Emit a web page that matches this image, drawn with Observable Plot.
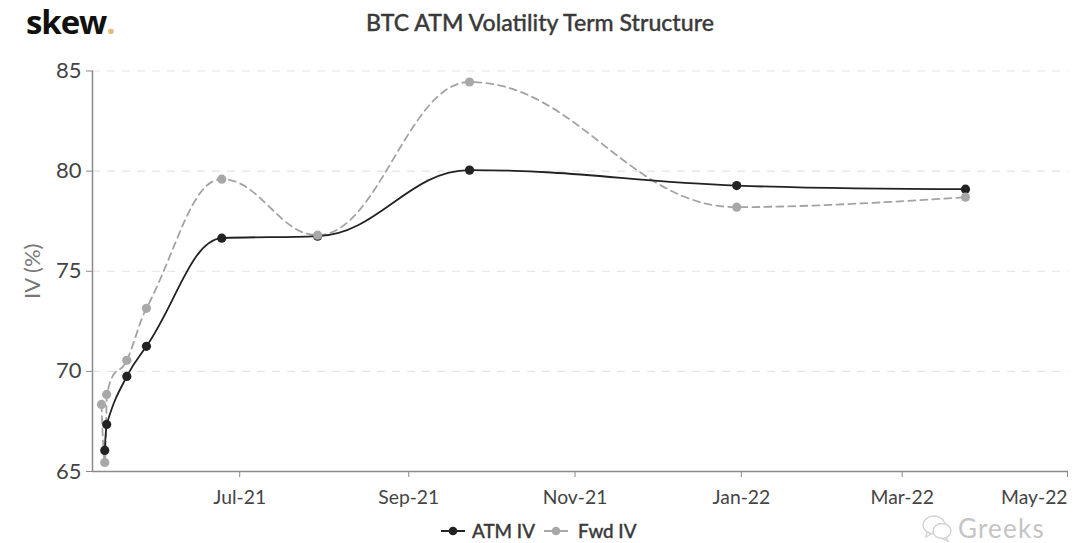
<!DOCTYPE html>
<html>
<head>
<meta charset="utf-8">
<script src="https://cdn.jsdelivr.net/npm/d3@7"></script>
<script src="https://cdn.jsdelivr.net/npm/@observablehq/plot@0.6"></script>
<style>
html,body{margin:0;padding:0;background:#fff;overflow:hidden}
#wrap{position:relative;width:1080px;height:543px;font-family:Lato,sans-serif}
#wrap svg.main{position:absolute;left:0;top:0}
.abs{position:absolute;white-space:nowrap}
#title{left:0;width:1080px;top:9px;text-align:center;font-size:23.1px;font-weight:500;color:#3a3a3a;line-height:26px;-webkit-text-stroke:.35px #3a3a3a}
#logo{left:26px;top:0;font-family:"Open Sans",sans-serif;font-size:33px;font-weight:700;color:#111;line-height:44px;letter-spacing:-1.1px}
#logo span{color:#e2bf78}
.leg{top:519px;font-size:18.8px;font-weight:500;color:#3a3a3a;line-height:24px;-webkit-text-stroke:.35px #3a3a3a}
.mark{top:524px;width:26px;height:14px}
#wm{left:958px;top:513px;font-size:26px;color:#c4c4c4;line-height:30px;letter-spacing:1.2px}
</style>
</head>
<body>
<div id="wrap"></div>
<script>
const atmDates = ["2021-05-12T12:00Z","2021-05-13T05:00Z","2021-05-20T14:00Z","2021-05-27T19:00Z","2021-06-24T10:00Z","2021-07-29T14:00Z","2021-09-23T07:00Z","2021-12-30T07:00Z","2022-03-24T05:00Z"];
const atmValues = [66.05,67.35,69.75,71.25,76.65,76.75,80.05,79.28,79.1];
const fwdDates = ["2021-05-11T07:00Z","2021-05-12T12:00Z","2021-05-13T05:00Z","2021-05-20T14:00Z","2021-05-27T19:00Z","2021-06-24T10:00Z","2021-07-29T14:00Z","2021-09-23T07:00Z","2021-12-30T07:00Z","2022-03-24T05:00Z"];
const fwdValues = [68.35,65.45,68.85,70.55,73.15,79.6,76.8,84.45,78.2,78.7];
const xTicks = ["2021-07-01","2021-09-01","2021-11-01","2022-01-01","2022-03-01"];
const xLastTick = "2022-05-01";
const yTicks = [65,70,75,80,85];
const xDomain = ["2021-05-08","2022-05-01"];

const toRows = (ds, vs) => ds.map((d, i) => ({date: new Date(d), iv: vs[i]}));
const atm = toRows(atmDates, atmValues);
const fwd = toRows(fwdDates, fwdValues);

// Spline with the same control-point rule as the source chart's smoothed line
function splineCurve(context) {
  const pts = [];
  return {
    areaStart() {}, areaEnd() {},
    lineStart() { pts.length = 0; },
    point(x, y) { pts.push([+x, +y]); },
    lineEnd() {
      const s = 1.5, den = s + 1;
      let prevRX = null, prevRY = null;
      pts.forEach((p, i) => {
        const [x, y] = p;
        let lx = x, ly = y, rx = x, ry = y;
        const last = pts[i - 1], next = pts[i + 1];
        if (last && next) {
          lx = (s * x + last[0]) / den; ly = (s * y + last[1]) / den;
          rx = (s * x + next[0]) / den; ry = (s * y + next[1]) / den;
          const c = ((ry - ly) * (rx - x)) / (rx - lx) + y - ry;
          ly += c; ry += c;
          if (ly > last[1] && ly > y) { ly = Math.max(last[1], y); ry = 2 * y - ly; }
          else if (ly < last[1] && ly < y) { ly = Math.min(last[1], y); ry = 2 * y - ly; }
          if (ry > next[1] && ry > y) { ry = Math.max(next[1], y); ly = 2 * y - ry; }
          else if (ry < next[1] && ry < y) { ry = Math.min(next[1], y); ly = 2 * y - ry; }
        }
        if (i === 0) context.moveTo(x, y);
        else context.bezierCurveTo(prevRX, prevRY, lx, ly, x, y);
        prevRX = rx; prevRY = ry;
      });
    }
  };
}

const axisColor = "#8a8a8a";
const fmt = d3.utcFormat("%b-%y");
const xAxisOpts = {tickFormat: fmt, tickSize: 6, tickPadding: 12.5, fontSize: 19.3, color: "#444", stroke: axisColor, label: null};
const chart = Plot.plot({
  width: 1080, height: 543,
  marginLeft: 92, marginRight: 12, marginTop: 70.5, marginBottom: 72,
  style: {fontFamily: "Lato, sans-serif", background: "transparent", overflow: "visible"},
  x: {type: "utc", domain: xDomain.map(d => new Date(d))},
  y: {domain: [65, 85]},
  marks: [
    Plot.gridY(yTicks.slice(1), {stroke: "#e4e4e4", strokeOpacity: 1, strokeDasharray: "8 7", strokeWidth: 1.2}),
    Plot.ruleY([65], {stroke: axisColor, strokeWidth: 1.5}),
    Plot.ruleX([new Date(xDomain[0])], {stroke: axisColor, strokeWidth: 1.5}),
    Plot.axisY({ticks: yTicks, tickSize: 6, tickPadding: 5, fontSize: 22, color: "#444", stroke: axisColor, label: null}),
    Plot.axisX({...xAxisOpts, ticks: xTicks.map(d => new Date(d))}),
    Plot.axisX({...xAxisOpts, ticks: [new Date(xLastTick)], textAnchor: "end", dx: -1}),
    Plot.text(["IV (%)"], {frameAnchor: "left", dx: -60, rotate: -90, fontSize: 22, fill: "#777", textAnchor: "middle"}),
    Plot.line(fwd, {x: "date", y: "iv", stroke: "#a3a3a3", strokeWidth: 1.8, strokeDasharray: "7 5", curve: splineCurve}),
    Plot.line(atm, {x: "date", y: "iv", stroke: "#222", strokeWidth: 1.8, curve: splineCurve}),
    Plot.dot(atm, {x: "date", y: "iv", r: 4.6, fill: "#222", stroke: "none"}),
    Plot.dot(fwd, {x: "date", y: "iv", r: 4.6, fill: "#a8a8a8", stroke: "none"})
  ]
});
chart.classList.add("main");
const wrap = document.getElementById("wrap");
wrap.appendChild(chart);
wrap.insertAdjacentHTML("beforeend", `
<div class="abs" id="logo">skew<span>.</span></div>
<div class="abs" id="title">BTC ATM Volatility Term Structure</div>
<svg class="abs mark" style="left:440px"><line x1="1" x2="25" y1="7" y2="7" stroke="#222" stroke-width="2"/><circle cx="13" cy="7" r="4.3" fill="#222"/></svg>
<div class="abs leg" style="left:472px">ATM IV</div>
<svg class="abs mark" style="left:543px"><line x1="1" x2="25" y1="7" y2="7" stroke="#a8a8a8" stroke-width="2"/><circle cx="13" cy="7" r="4.3" fill="#a8a8a8"/></svg>
<div class="abs leg" style="left:578px">Fwd IV</div>
<svg class="abs" style="left:921px;top:514px" width="34" height="30" fill="none" stroke="#d0d0d0" stroke-width="1.3"><ellipse cx="13" cy="11" rx="11" ry="9"/><ellipse cx="21" cy="17" rx="9" ry="7.5" fill="#fff"/><path d="M6 18l-1 5 5-3M25 23l2 4-5-2"/></svg>
<div class="abs" id="wm">Greeks</div>`);
</script>
</body>
</html>
